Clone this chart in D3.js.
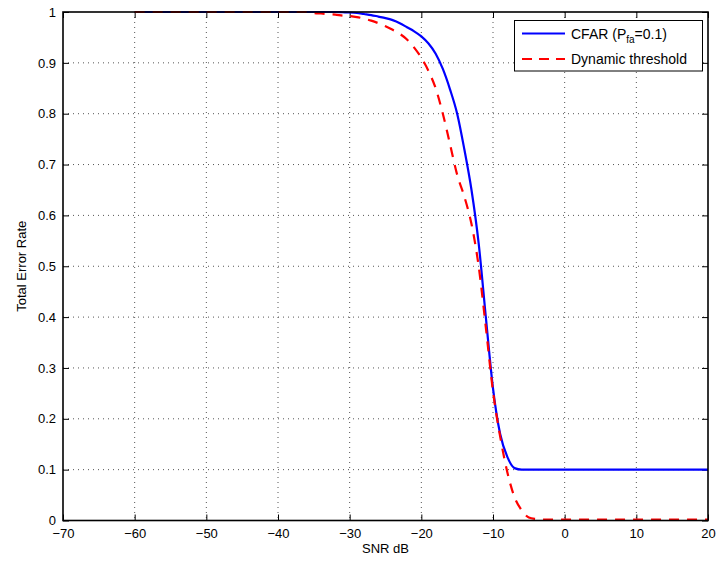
<!DOCTYPE html>
<html><head><meta charset="utf-8">
<script src="https://cdn.jsdelivr.net/npm/d3@7"></script>
<style>body{margin:0;background:#fff;} text{font-family:"Liberation Sans",Arial,Helvetica,sans-serif;}</style>
</head><body>
<svg id="chart" width="717" height="562"></svg>
<script>
const snr = d3.range(-60, 21, 1);
const cfar = [
 1,1,1,1,1,1,1,1,1,1, 1,1,1,1,1,1,1,1,1,1, 1,1,1,1,1,1,1,1, // -60..-33
 1.0, 0.9995, 0.999, 0.998, 0.996, 0.994, 0.991, 0.988, 0.984, 0.978, 0.970, 0.962, 0.952, // -32..-20
 0.938, 0.918, 0.888, 0.848, 0.800, 0.730, 0.650, 0.545, 0.400, 0.260, 0.170, 0.125, 0.103, 0.100, // -19..-6
 0.1,0.1,0.1,0.1,0.1,0.1, 0.1,0.1,0.1,0.1,0.1,0.1,0.1,0.1,0.1,0.1, 0.1,0.1,0.1,0.1,0.1,0.1,0.1,0.1,0.1,0.1 // -5..20
];
const dyn = [
 1,1,1,1,1,1,1,1,1,1, 1,1,1,1,1,1,1,1,1,1, 1,1,1,1,1, // -60..-36
 0.998, 0.997, 0.996, 0.995, 0.993, 0.992, 0.990, 0.987, 0.983, 0.978, 0.972, 0.965, 0.957, 0.946, 0.930, 0.910, // -35..-20
 0.884, 0.850, 0.800, 0.740, 0.680, 0.637, 0.583, 0.500, 0.380, 0.254, 0.165, 0.095, 0.046, 0.020, 0.006, // -19..-5
 0.003, 0.002, 0.002, 0.002, 0.002, 0.002, 0.002, 0.002, 0.002, 0.002, 0.002, 0.002, 0.002, 0.002, 0.002, // -4..10
 0.002, 0.002, 0.002, 0.002, 0.002, 0.002, 0.002, 0.002, 0.002, 0.002 // 11..20
];
const xTicks = [-70,-60,-50,-40,-30,-20,-10,0,10,20];
const yTicks = [0,0.1,0.2,0.3,0.4,0.5,0.6,0.7,0.8,0.9,1];
const seriesNames = ["CFAR", "Dynamic threshold"];

const L=63, R=708, T=12, B=520.5;
const svg = d3.select("#chart");
const x = d3.scaleLinear().domain([-70,20]).range([L,R]);
const y = d3.scaleLinear().domain([0,1]).range([B,T]);

// grid
const g = svg.append("g");
g.selectAll(".gx").data(xTicks.slice(1,-1)).join("line")
 .attr("x1",d=>x(d)).attr("x2",d=>x(d)).attr("y1",T).attr("y2",B)
 .attr("stroke","#555").attr("stroke-width",1).attr("stroke-dasharray","1,4");
g.selectAll(".gy").data(yTicks.slice(1,-1)).join("line")
 .attr("y1",d=>y(d)).attr("y2",d=>y(d)).attr("x1",L).attr("x2",R)
 .attr("stroke","#555").attr("stroke-width",1).attr("stroke-dasharray","1,4");

// axes
const ax = svg.append("g").attr("transform",`translate(0,${B})`)
 .call(d3.axisBottom(x).tickValues(xTicks).tickSizeInner(-6).tickSizeOuter(0).tickPadding(10).tickFormat(d=>d<0?"\u2212"+Math.abs(d):d));
const axT = svg.append("g").attr("transform",`translate(0,${T})`)
 .call(d3.axisTop(x).tickValues(xTicks).tickSizeInner(-6).tickSizeOuter(0).tickFormat(""));
const ay = svg.append("g").attr("transform",`translate(${L},0)`)
 .call(d3.axisLeft(y).tickValues(yTicks).tickSizeInner(-6).tickSizeOuter(0).tickPadding(7).tickFormat(d=>d===0?"0":d===1?"1":d3.format(".1f")(d)));
const ayR = svg.append("g").attr("transform",`translate(${R},0)`)
 .call(d3.axisRight(y).tickValues(yTicks).tickSizeInner(-6).tickSizeOuter(0).tickFormat(""));
[ax,axT,ay,ayR].forEach(a=>{
 a.select(".domain").remove();
 a.selectAll("line").attr("stroke","#000").attr("stroke-width",1);
 a.selectAll("text").attr("font-size",13).attr("fill","#000").style("font-family","Liberation Sans, Arial, sans-serif");
});
ax.selectAll("text").attr("dy","0.55em");

// curves
const line = d3.line().x((d,i)=>x(snr[i])).y(d=>y(d)).curve(d3.curveMonotoneX);
svg.append("path").datum(cfar).attr("d",line).attr("fill","none")
 .attr("stroke","#0000ff").attr("stroke-width",2.2);
svg.append("path").datum(dyn).attr("d",line).attr("fill","none")
 .attr("stroke","#ff0000").attr("stroke-width",2.2).attr("stroke-dasharray","10,8");

// frame
svg.append("rect").attr("x",L).attr("y",T).attr("width",R-L).attr("height",B-T)
 .attr("fill","none").attr("stroke","#000").attr("stroke-width",1.6);

// labels
svg.append("text").attr("x",(L+R)/2).attr("y",553).attr("text-anchor","middle")
 .attr("font-size",13).text("SNR dB");
svg.append("text").attr("transform",`translate(26,${(T+B)/2}) rotate(-90)`).attr("text-anchor","middle")
 .attr("font-size",13).text("Total Error Rate");

// legend
const lg = svg.append("g");
lg.append("rect").attr("x",514.5).attr("y",20.5).attr("width",188).attr("height",50.5)
 .attr("fill","#fff").attr("stroke","#000").attr("stroke-width",1);
lg.append("line").attr("x1",522).attr("x2",565).attr("y1",33.5).attr("y2",33.5)
 .attr("stroke","#0000ff").attr("stroke-width",2.2);
lg.append("line").attr("x1",522).attr("x2",565).attr("y1",59).attr("y2",59)
 .attr("stroke","#ff0000").attr("stroke-width",2.2).attr("stroke-dasharray","10,7");
const t1 = lg.append("text").attr("x",571).attr("y",38.5).attr("font-size",14);
t1.append("tspan").text(seriesNames[0] + " (P");
t1.append("tspan").attr("font-size",10).attr("dy",4).text("fa");
t1.append("tspan").attr("dy",-4).text("=0.1)");
lg.append("text").attr("x",571).attr("y",64).attr("font-size",14).text(seriesNames[1]);
</script>
</body></html>
